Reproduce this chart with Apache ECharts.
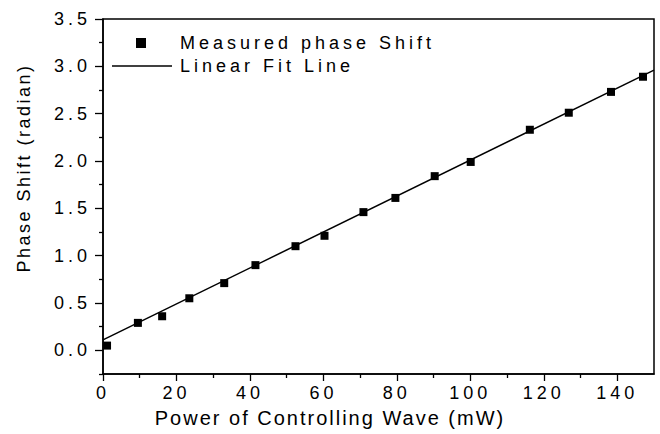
<!DOCTYPE html>
<html>
<head>
<meta charset="utf-8">
<script src="https://cdn.jsdelivr.net/npm/echarts@6/dist/echarts.min.js"></script>
<style>
html,body{margin:0;padding:0;background:#fff;}
#c{width:660px;height:434px;}
#c text{letter-spacing:4px;}
</style>
</head>
<body>
<div id="c"></div>
<script>
// ---- data ----
var powerMW = [1.1, 9.5, 16.1, 23.5, 33.0, 41.5, 52.4, 60.3, 70.9, 79.6, 90.3, 100.1, 116.2, 126.8, 138.3, 147.0];
var phaseShift = [0.05, 0.29, 0.36, 0.55, 0.71, 0.90, 1.10, 1.21, 1.46, 1.61, 1.84, 1.99, 2.33, 2.51, 2.73, 2.89];
var fitX = [0, 150];
var fitY = [0.11, 2.96];
var xTickLabels = [0, 20, 40, 60, 80, 100, 120, 140];
var xMinorTicks = [10, 30, 50, 70, 90, 110, 130];
var yTickLabels = [0, 0.5, 1.0, 1.5, 2.0, 2.5, 3.0, 3.5];
var yMinorTicks = [-0.25, 0.25, 0.75, 1.25, 1.75, 2.25, 2.75, 3.25];
var seriesNames = ['Measured phase Shift', 'Linear Fit Line'];
var xTitle = 'Power of Controlling Wave (mW)';
var yTitle = 'Phase Shift (radian)';

var FONT = '"Liberation Sans", Arial, sans-serif';
var chart = echarts.init(document.getElementById('c'), null, {renderer: 'svg'});

function zip(a, b) { return a.map(function (v, i) { return [v, b[i]]; }); }

var option = {
  animation: false,
  backgroundColor: '#fff',
  grid: {left: 103, right: 6, top: 19, bottom: 60, show: true, borderColor: '#000', borderWidth: 1.5, backgroundColor: 'transparent'},
  legend: [
    {data: [{name: seriesNames[0], icon: 'rect', itemStyle: {color: '#000', opacity: 1}}], left: 136, top: 34, padding: 0, itemWidth: 10, itemHeight: 10,
     textStyle: {fontFamily: FONT, fontSize: 18, color: '#000', padding: [0, 0, 0, 29]}, selectedMode: false},
    {data: [{name: seriesNames[1], icon: 'rect', itemStyle: {color: '#000', opacity: 1}}], left: 112, top: 57, padding: 0, itemWidth: 60, itemHeight: 1.5,
     textStyle: {fontFamily: FONT, fontSize: 18, color: '#000', padding: [0, 0, 0, 3]}, selectedMode: false}
  ],
  xAxis: [
    {type: 'value', min: 0, max: 150, interval: 10, position: 'bottom',
     name: xTitle, nameLocation: 'middle', nameGap: 34,
     nameTextStyle: {fontFamily: FONT, fontSize: 20, color: '#000', padding: [0, 97, 0, 0]},
     axisLine: {show: true, onZero: false, lineStyle: {color: '#000', width: 1.5}},
     axisTick: {show: true, inside: false, length: 7, customValues: xTickLabels, lineStyle: {color: '#000', width: 1.3}},
     axisLabel: {show: true, customValues: xTickLabels, margin: 10, fontFamily: FONT, fontSize: 18, color: '#000'},
     splitLine: {show: false}},
    {type: 'value', min: 0, max: 150, interval: 10, position: 'bottom', offset: 0,
     axisLine: {show: false, onZero: false},
     axisTick: {show: true, inside: false, length: 4, customValues: xMinorTicks, lineStyle: {color: '#000', width: 1.3}},
     axisLabel: {show: false}, splitLine: {show: false}}
  ],
  yAxis: [
    {type: 'value', min: -0.25, max: 3.5, interval: 0.25, position: 'left',
     name: yTitle, nameLocation: 'middle', nameGap: 70,
     nameTextStyle: {fontFamily: FONT, fontSize: 18, color: '#000', padding: [0, 0, 0, 57]},
     axisLine: {show: true, onZero: false, lineStyle: {color: '#000', width: 1.5}},
     axisTick: {show: true, inside: false, length: 8, customValues: yTickLabels, lineStyle: {color: '#000', width: 1.3}},
     axisLabel: {show: true, customValues: yTickLabels, margin: 12, fontFamily: FONT, fontSize: 18, color: '#000',
       formatter: function (v) { return Number(v).toFixed(1); }},
     splitLine: {show: false}},
    {type: 'value', min: -0.25, max: 3.5, interval: 0.25, position: 'left', offset: 0,
     axisLine: {show: false, onZero: false},
     axisTick: {show: true, inside: false, length: 4, customValues: yMinorTicks, lineStyle: {color: '#000', width: 1.3}},
     axisLabel: {show: false}, splitLine: {show: false}}
  ],
  series: [
    {name: seriesNames[0], type: 'scatter', xAxisIndex: 0, yAxisIndex: 0, data: zip(powerMW, phaseShift),
     symbol: 'rect', symbolSize: 8, itemStyle: {color: '#000', opacity: 1}, z: 3},
    {name: seriesNames[1], type: 'line', xAxisIndex: 0, yAxisIndex: 0, data: zip(fitX, fitY),
     symbol: 'none', showSymbol: false, lineStyle: {color: '#000', width: 1.5}, itemStyle: {color: '#000'}, z: 2}
  ]
};
chart.setOption(option);

function spacing() {
  var texts = document.querySelectorAll('#c text');
  texts.forEach(function (t) {
    var s = t.textContent;
    if (s === xTitle) t.style.letterSpacing = '2px';
    else if (s === yTitle) t.style.letterSpacing = '2.5px';
  });
}
spacing();
setTimeout(spacing, 0);
chart.on('finished', spacing);
</script>
</body>
</html>
